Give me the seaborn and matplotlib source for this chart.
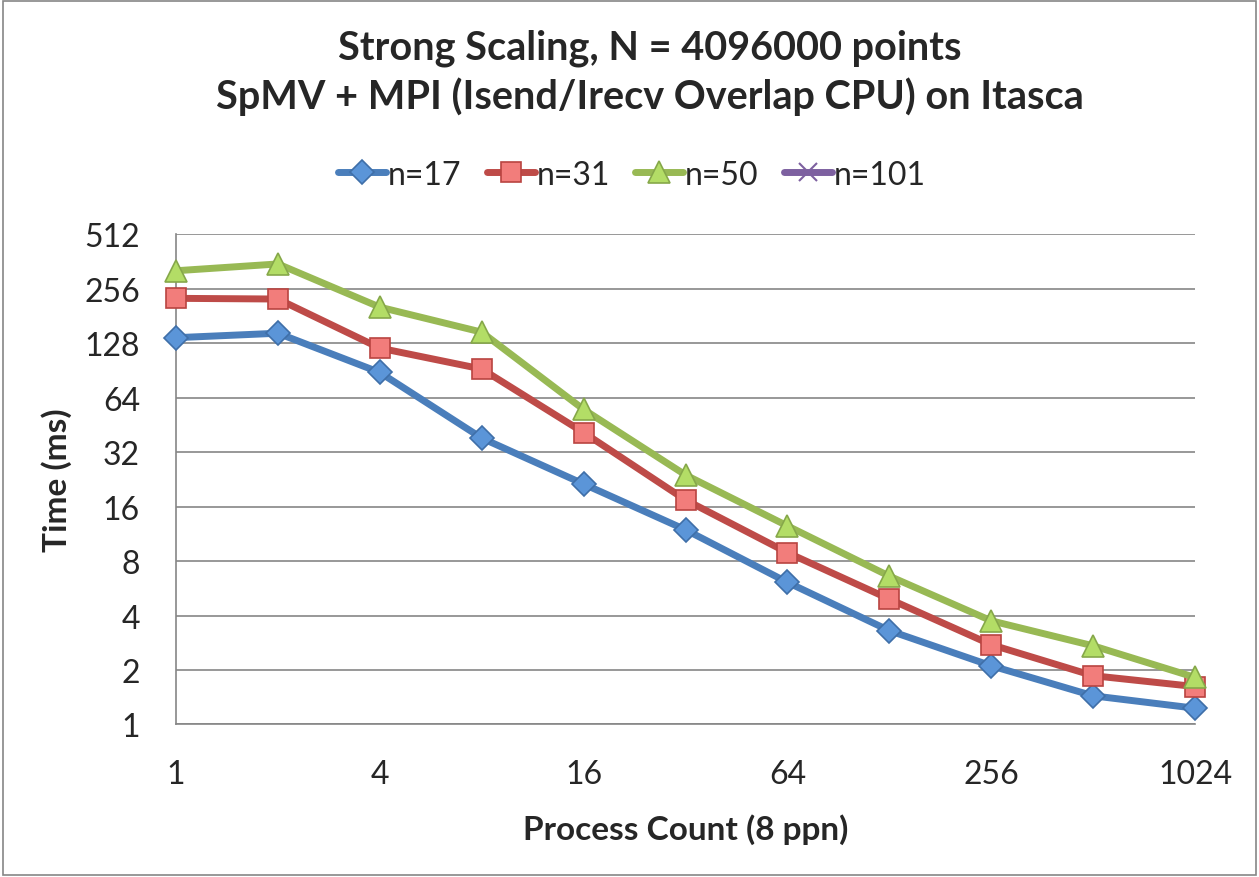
import pandas as pd
import matplotlib.pyplot as plt
import seaborn as sns
from matplotlib.patches import Rectangle

procs = [1, 2, 4, 8, 16, 32, 64, 128, 256, 512, 1024]
t_n17 = [137, 145, 88, 38.2, 21.3, 11.9, 6.1, 3.3, 2.11, 1.44, 1.23]
t_n31 = [226, 224, 120, 92, 41, 17.4, 8.9, 4.93, 2.76, 1.86, 1.62]
t_n50 = [321, 350, 202, 147, 55, 23.9, 12.5, 6.6, 3.74, 2.72, 1.82]
t_n101 = []  # only shows up in the legend

series = [
    ('n=17', t_n17, '#4A7EBB', '#5B95D8', '#3F6FA8', 'D', 12),
    ('n=31', t_n31, '#BE4B48', '#F27D7B', '#B94441', 's', 15),
    ('n=50', t_n50, '#98B954', '#B3DD66', '#86A84A', '^', 16),
    ('n=101', t_n101, '#7D60A0', '#7D60A0', '#7D60A0', 'x', 13),
]

sns.set_style('white')
plt.rcParams['font.family'] = ['Lato', 'DejaVu Sans']

fig = plt.figure(figsize=(12.59, 8.78), dpi=100)
ax = fig.add_axes([0.1398, 0.1737, 0.8094, 0.5586])

for nome, vals, cor, face, borda, mk, ms in series:
    df = pd.DataFrame({'p': procs[:len(vals)], 't': vals})
    sns.lineplot(data=df, x='p', y='t', ax=ax, color=cor, lw=5, marker=mk,
                 markersize=ms, markerfacecolor=face, markeredgecolor=borda,
                 markeredgewidth=1.2 if mk != 'x' else 1.5, label=nome,
                 clip_on=False, zorder=3)

ax.set_xscale('log', base=2)
ax.set_yscale('log', base=2)
ax.set_xlim(1, 1024)
ax.set_ylim(1, 512)
xt = [1, 4, 16, 64, 256, 1024]
yt = [1, 2, 4, 8, 16, 32, 64, 128, 256, 512]
ax.set_xticks(xt)
ax.set_xticklabels([str(v) for v in xt])
ax.set_yticks(yt)
ax.set_yticklabels([str(v) for v in yt])
ax.minorticks_off()
ax.tick_params(axis='both', labelsize=23, color='#868686', length=9, width=1.2,
               direction='out')
ax.tick_params(axis='x', pad=16)
ax.tick_params(axis='y', pad=17)
ax.yaxis.grid(True, color='#868686', lw=1.2)
ax.xaxis.grid(False)
for s in ['top', 'right']:
    ax.spines[s].set_visible(False)
for s in ['left', 'bottom']:
    ax.spines[s].set_color('#868686')
    ax.spines[s].set_linewidth(1.2)

ax.set_xlabel('Process Count (8 ppn)', fontsize=24, fontweight='bold', va='center')
ax.set_ylabel('Time (ms)', fontsize=24, fontweight='bold', va='center')
ax.xaxis.set_label_coords(0.5, -0.213)
ax.yaxis.set_label_coords(-0.117, 0.5)

fig.text(0.516, 0.9453, 'Strong Scaling, N = 4096000 points',
         ha='center', va='center', fontsize=28.5, fontweight='bold')
fig.text(0.516, 0.8895, 'SpMV + MPI (Isend/Irecv Overlap CPU) on Itasca',
         ha='center', va='center', fontsize=28.5, fontweight='bold')

ax.legend(loc='center', bbox_to_anchor=(0.502, 0.80), bbox_transform=fig.transFigure,
          ncol=4, frameon=False, fontsize=23, handlelength=1.5, handletextpad=0.05,
          columnspacing=0.8)

fig.patches.append(Rectangle((0.002, 0.002), 0.996, 0.996, transform=fig.transFigure,
                             fill=False, edgecolor='#868686', lw=1.2))

fig.savefig('out.png', dpi=100)
